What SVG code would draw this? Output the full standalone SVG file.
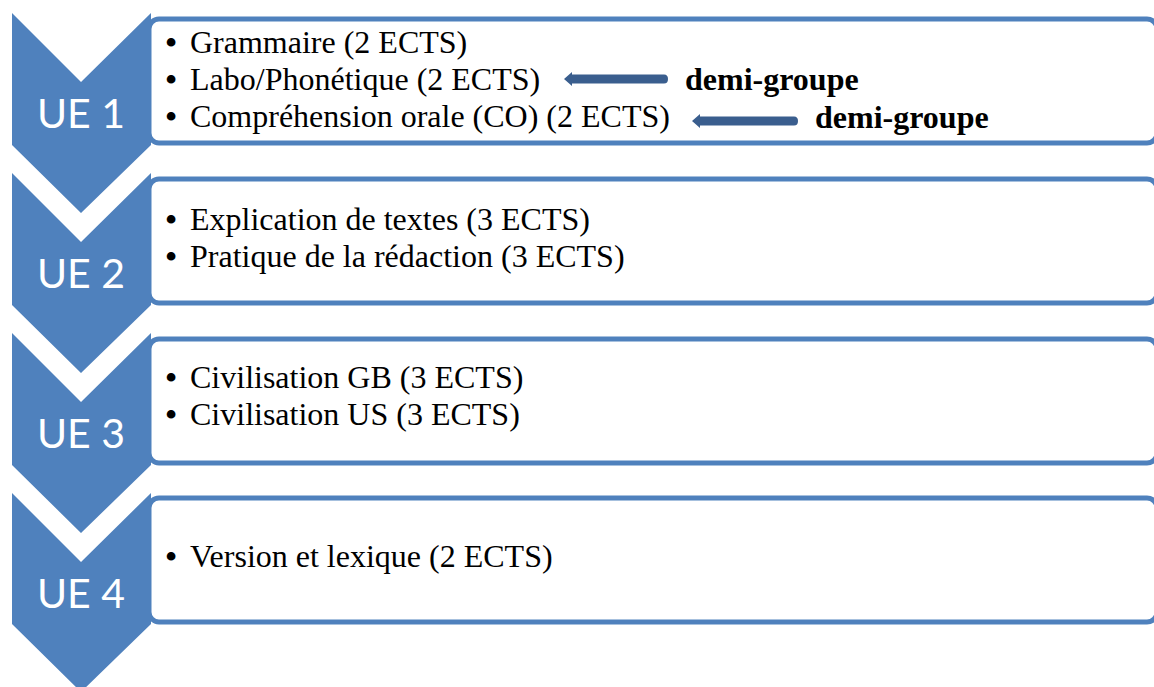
<svg xmlns="http://www.w3.org/2000/svg" width="1154" height="687" viewBox="0 0 1154 687">
<style>
.box{fill:#ffffff;stroke:#4f81bd;stroke-width:5}
.chev{fill:#4f81bd}
.ue{font-family:Lato,"Open Sans",sans-serif;font-size:41px;fill:#ffffff;text-anchor:middle}
.t{font-family:"Liberation Serif","Times New Roman",serif;font-size:32px;fill:#000000}
.bu{font-family:"Liberation Serif","Times New Roman",serif;font-size:32px;font-weight:bold;fill:#000000;text-anchor:middle}
.b{font-family:"Liberation Serif","Times New Roman",serif;font-size:32px;font-weight:bold;fill:#000000}
.arr{fill:#3a5e8e}
</style>
<rect width="1154" height="687" fill="#ffffff"/>
<g id="ue1">
<rect class="box" x="149" y="19" width="1008" height="124" rx="10"/>
<path class="chev" d="M12,13 L81,82 L151,13 L151,145 L81,213 L12,145 Z"/>
<text class="ue" x="81" y="128">UE 1</text>
<text class="bu" x="171" y="53">•</text><text class="t" x="190" y="53">Grammaire (2 ECTS)</text>
<text class="bu" x="171" y="90">•</text><text class="t" x="190" y="90">Labo/Phonétique (2 ECTS)</text>
<text class="bu" x="171" y="127">•</text><text class="t" x="190" y="127">Compréhension orale (CO) (2 ECTS)</text>
</g>
<g id="ue2">
<rect class="box" x="149" y="179" width="1008" height="124" rx="10"/>
<path class="chev" d="M12,173 L81,242 L151,173 L151,305 L81,373 L12,305 Z"/>
<text class="ue" x="81" y="288">UE 2</text>
<text class="bu" x="171" y="230">•</text><text class="t" x="190" y="230">Explication de textes (3 ECTS)</text>
<text class="bu" x="171" y="267">•</text><text class="t" x="190" y="267">Pratique de la rédaction (3 ECTS)</text>
</g>
<g id="ue3">
<rect class="box" x="149" y="339" width="1008" height="124" rx="10"/>
<path class="chev" d="M12,333 L81,402 L151,333 L151,465 L81,533 L12,465 Z"/>
<text class="ue" x="81" y="448">UE 3</text>
<text class="bu" x="171" y="388">•</text><text class="t" x="190" y="388">Civilisation GB (3 ECTS)</text>
<text class="bu" x="171" y="425">•</text><text class="t" x="190" y="425">Civilisation US (3 ECTS)</text>
</g>
<g id="ue4">
<rect class="box" x="149" y="498" width="1008" height="124" rx="10"/>
<path class="chev" d="M12,493 L81,562 L151,493 L151,624 L81,692 L12,624 Z"/>
<text class="ue" x="81" y="608">UE 4</text>
<text class="bu" x="171" y="567">•</text><text class="t" x="190" y="567">Version et lexique (2 ECTS)</text>
</g>
<g id="connectors">
<path class="arr" d="M564,79 L572,72 L572,74.5 L664,74.5 Q668,74.5 668,79 Q668,83.5 664,83.5 L572,83.5 L572,86 Z"/>
<path class="arr" d="M692,121 L700,114 L700,116.5 L794,116.5 Q798,116.5 798,121 Q798,125.5 794,125.5 L700,125.5 L700,128 Z"/>
</g>
<g id="labels">
<text class="b" x="685" y="90">demi-groupe</text>
<text class="b" x="815" y="128">demi-groupe</text>
</g>
</svg>
